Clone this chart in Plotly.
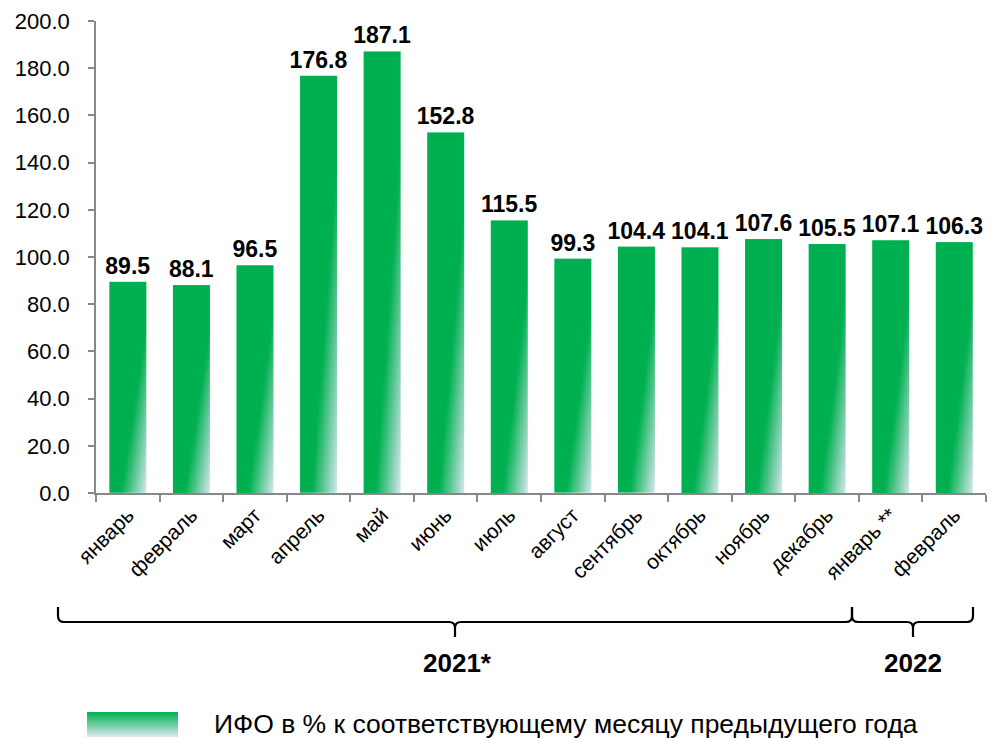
import plotly.graph_objects as go

months = ["январь", "февраль", "март", "апрель", "май", "июнь", "июль", "август",
          "сентябрь", "октябрь", "ноябрь", "декабрь", "январь **", "февраль"]
values = [89.5, 88.1, 96.5, 176.8, 187.1, 152.8, 115.5, 99.3, 104.4, 104.1, 107.6, 105.5, 107.1, 106.3]
year_labels = ["2021*", "2022"]
legend_label = "ИФО в % к соответствующему месяцу предыдущего года"

W, H = 998, 738
GREEN = "rgb(0,176,80)"
LIGHT = "rgb(219,232,241)"
FONT = "Liberation Sans, Arial, sans-serif"
BAR_W = 0.58


def px(x):
    return x / W


def py(y):
    return 1 - y / H


xs = list(range(len(months)))
fig = go.Figure()

# gradient-filled bars (diagonal, lighter toward the lower-right corner)
NU, NV = 24, 40
A, B, C = 1.43, 1.25, -0.43
for i, h in zip(xs, values):
    xl = i - BAR_W / 2
    xe = [xl + BAR_W * k / NU for k in range(NU + 1)]
    ye = [h * j / NV for j in range(NV + 1)]
    z = []
    for j in range(NV):
        v = (j + 0.5) / NV
        row = []
        for k in range(NU):
            u = (k + 0.5) / NU
            row.append(max(0.0, min(1.0, A * u - B * v + C)))
        z.append(row)
    fig.add_trace(go.Heatmap(
        x=xe, y=ye, z=z, zmin=0, zmax=1, zsmooth="best",
        colorscale=[[0, GREEN], [1, LIGHT]], showscale=False, hoverinfo="skip",
    ))

# bar trace carrying the value labels (fill drawn by the heatmaps above)
fig.add_trace(go.Bar(
    x=xs, y=values, width=BAR_W, marker=dict(color="rgba(0,0,0,0)", line=dict(width=0)),
    text=values, texttemplate="<b>%{y:.1f}</b>", textposition="outside",
    textfont=dict(family=FONT, size=23, color="black"), cliponaxis=False,
    constraintext="none", showlegend=False, hoverinfo="skip",
))

# legend swatch on its own small axes
fig.add_trace(go.Scatter(
    x=[0, 1, 1, 0, 0], y=[0, 0, 1, 1, 0], mode="lines", line=dict(width=0),
    fill="toself", xaxis="x2", yaxis="y2",
    fillgradient=dict(type="vertical", start=0, stop=1,
                      colorscale=[[0, LIGHT], [1, GREEN]]),
    showlegend=False, hoverinfo="skip",
))

axis_col = "#888888"
fig.update_layout(
    template="none",
    width=W, height=H, margin=dict(l=0, r=0, t=0, b=0, autoexpand=False),
    paper_bgcolor="white", plot_bgcolor="white",
    font=dict(family=FONT, color="black"),
    xaxis=dict(domain=[px(96), px(986)], range=[-0.5, len(months) - 0.5], automargin=False,
               tickmode="array", tickvals=xs, ticktext=months, ticks="",
               tickangle=-45, tickfont=dict(size=21),
               showline=True, linecolor=axis_col, linewidth=1.5, showgrid=False, zeroline=False,
               minor=dict(tickmode="array", tickvals=[k - 0.5 for k in range(len(months) + 1)],
                          ticks="outside", ticklen=7, tickcolor=axis_col, tickwidth=1.5, showgrid=False)),
    yaxis=dict(domain=[py(493), py(21)], range=[0, 200], dtick=20, tickformat=".1f", automargin=False,
               ticks="outside", ticklen=6, tickcolor=axis_col, tickwidth=1.5, ticklabelstandoff=14,
               showline=True, linecolor=axis_col, linewidth=1.5, showgrid=False, zeroline=False,
               tickfont=dict(size=22)),
    xaxis2=dict(domain=[px(87), px(178)], range=[0, 1], visible=False, fixedrange=True, automargin=False),
    yaxis2=dict(domain=[py(737), py(712)], range=[0, 1], visible=False, fixedrange=True, automargin=False),
)


def bracket(x0, xm, x1, yl=622, yt=607, yb=637, r=6):
    pts = [
        f"M {px(x0)},{py(yt)}",
        f"L {px(x0)},{py(yl - r)}",
        f"Q {px(x0)},{py(yl)} {px(x0 + r)},{py(yl)}",
        f"L {px(xm - r)},{py(yl)}",
        f"Q {px(xm)},{py(yl)} {px(xm)},{py(yl + r)}",
        f"L {px(xm)},{py(yb)}",
        f"M {px(xm)},{py(yl + r)}",
        f"Q {px(xm)},{py(yl)} {px(xm + r)},{py(yl)}",
        f"L {px(x1 - r)},{py(yl)}",
        f"Q {px(x1)},{py(yl)} {px(x1)},{py(yl - r)}",
        f"L {px(x1)},{py(yt)}",
    ]
    return " ".join(pts)


for path in (bracket(58, 455, 852), bracket(852, 913, 973)):
    fig.add_shape(type="path", path=path, xref="paper", yref="paper",
                  line=dict(color="black", width=2.2))

for txt, xc in zip(year_labels, [457, 913]):
    fig.add_annotation(x=px(xc), y=py(663), xref="paper", yref="paper", text=f"<b>{txt}</b>",
                       showarrow=False, font=dict(size=26, family=FONT, color="black"),
                       xanchor="center", yanchor="middle")

fig.add_annotation(x=px(212), y=py(724), xref="paper", yref="paper", text=legend_label,
                   showarrow=False, font=dict(size=26.5, family=FONT, color="black"),
                   xanchor="left", yanchor="middle")

fig.write_html("out.html", config={"displayModeBar": False},
               post_script="document.body.style.margin='0';document.body.style.overflow='hidden';")
